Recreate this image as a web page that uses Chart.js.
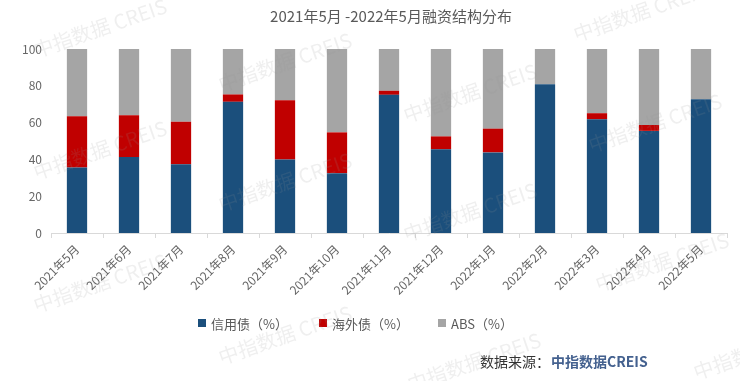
<!DOCTYPE html>
<html>
<head>
<meta charset="utf-8">
<script src="https://cdn.jsdelivr.net/npm/chart.js@4"></script>
<style>
html,body{margin:0;padding:0;background:#fff;}
#wrap{position:relative;width:740px;height:381px;}
canvas{display:block;}
</style>
</head>
<body>
<div id="wrap"><canvas id="c" width="740" height="381"></canvas></div>
<script>
const categories = ['2021年5月','2021年6月','2021年7月','2021年8月','2021年9月','2021年10月','2021年11月','2021年12月','2022年1月','2022年2月','2022年3月','2022年4月','2022年5月'];
const creditBond   = [35.6, 41.3, 37.3, 71.3, 40.0, 32.5, 75.1, 45.5, 43.8, 80.9, 61.8, 55.5, 72.7];
const overseasBond = [27.9, 22.7, 23.1,  4.0, 32.2, 22.2,  2.2,  7.0, 12.9,  0.0,  3.3,  3.2,  0.0];
const absShare     = [36.5, 36.0, 39.6, 24.7, 27.8, 45.3, 22.7, 47.5, 43.3, 19.1, 34.9, 41.3, 27.3];
const seriesNames  = ['信用债（%）', '海外债（%）', 'ABS（%）'];
const titleText = '2021年5月 -2022年5月融资结构分布';
const sourceLabel = '数据来源：';
const sourceName = '中指数据CREIS';
const watermarkText = '中指数据 CREIS';

const FONT = '"Noto Sans CJK SC", "Noto Sans", sans-serif';
const colors = ['#1B4F7C', '#C00000', '#A5A5A5'];
const watermarkSpots = [[100,28],[100,150],[100,283],[285,62],[285,182],[285,335],[470,93],[470,212],[474,362],[640,12],[655,123],[662,262],[760,350]];

const extrasPlugin = {
  id: 'extras',
  afterDraw(chart) {
    const ctx = chart.ctx;
    ctx.save();
    // title
    ctx.fillStyle = '#595959';
    ctx.font = '15px ' + FONT;
    ctx.textAlign = 'center';
    ctx.textBaseline = 'middle';
    ctx.fillText(titleText, 391, 16);
    // legend
    ctx.font = '13px ' + FONT;
    ctx.textAlign = 'left';
    const lx = [198, 319, 438];
    chart.data.datasets.forEach((ds, i) => {
      ctx.fillStyle = ds.backgroundColor;
      ctx.fillRect(lx[i], 319, 8, 8);
      ctx.fillStyle = '#595959';
      ctx.fillText(ds.label, lx[i] + 13, 324);
    });
    // source
    ctx.font = '14px ' + FONT;
    ctx.fillStyle = '#333333';
    ctx.fillText(sourceLabel, 480, 362);
    const w = ctx.measureText(sourceLabel).width;
    ctx.font = 'bold 14px ' + FONT;
    ctx.fillStyle = '#44618F';
    ctx.fillText(sourceName, 480 + w + 1, 362);
    // watermarks
    ctx.font = '20px ' + FONT;
    ctx.fillStyle = 'rgba(150,150,150,0.15)';
    ctx.textAlign = 'center';
    watermarkSpots.forEach(([cx, cy]) => {
      ctx.save();
      ctx.translate(cx, cy);
      ctx.rotate(-19 * Math.PI / 180);
      ctx.fillText(watermarkText, 0, 0);
      ctx.restore();
    });
    ctx.restore();
  }
};

new Chart(document.getElementById('c'), {
  type: 'bar',
  data: {
    labels: categories,
    datasets: [
      { label: seriesNames[0], data: creditBond, backgroundColor: colors[0] },
      { label: seriesNames[1], data: overseasBond, backgroundColor: colors[1] },
      { label: seriesNames[2], data: absShare, backgroundColor: colors[2] }
    ]
  },
  options: {
    responsive: false,
    animation: false,
    devicePixelRatio: 1,
    layout: { padding: { top: 49, right: 13, bottom: 48, left: 0 } },
    datasets: { bar: { categoryPercentage: 1, barPercentage: 0.39 } },
    plugins: { legend: { display: false }, title: { display: false }, tooltip: { enabled: false } },
    scales: {
      x: {
        stacked: true,
        afterFit: (s) => { s.height = 100; },
        grid: { display: true, offset: true, drawOnChartArea: false, drawTicks: true, tickLength: 5, color: '#D9D9D9' },
        border: { display: true, color: '#D9D9D9' },
        ticks: { autoSkip: false, minRotation: 45, maxRotation: 45, color: '#666666', padding: 4, font: { family: FONT, size: 12 } }
      },
      y: {
        stacked: true,
        min: 0, max: 100,
        afterFit: (s) => { s.width = 51; },
        grid: { display: false, drawTicks: false },
        border: { display: false },
        ticks: { stepSize: 20, color: '#666666', padding: 9, font: { family: FONT, size: 12 } }
      }
    }
  },
  plugins: [extrasPlugin]
});
</script>
</body>
</html>
